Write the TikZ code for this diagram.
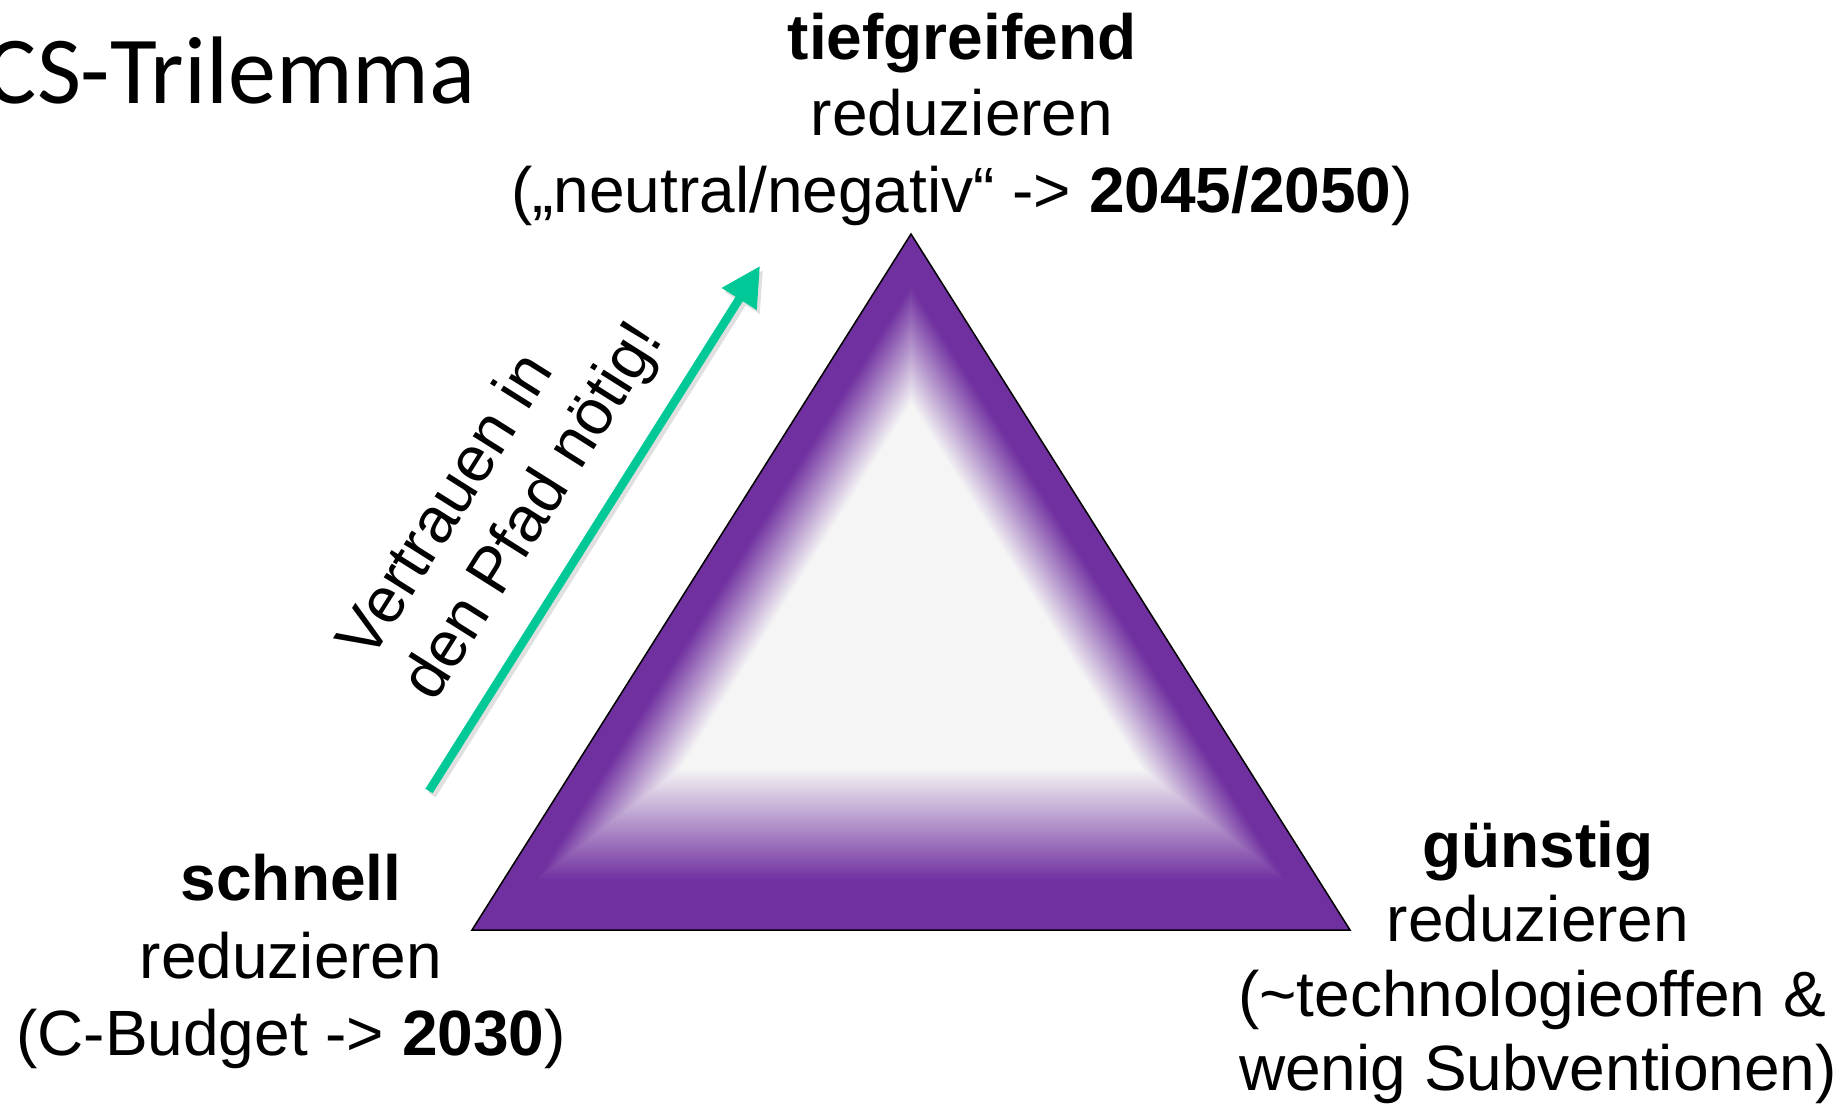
\documentclass[tikz,border=0pt]{standalone}
\usepackage{fontspec}
\setmainfont{Liberation Sans}
\newfontfamily\titlefont{Carlito}
\usetikzlibrary{arrows.meta,calc}
\definecolor{trpurple}{HTML}{7030A0}
\definecolor{trinner}{HTML}{F5F5F5}
\definecolor{arrowgreen}{HTML}{00C896}
\begin{document}
\begin{tikzpicture}[x=0.5pt,y=-0.5pt,
  lbl/.style={font=\fontsize{32}{38}\selectfont, inner sep=0pt, anchor=base},
  rlbl/.style={font=\fontsize{32}{38}\selectfont, inner sep=0pt, anchor=base west, rotate=57.77},
  titlestyle/.style={font=\titlefont\fontsize{48}{58}\selectfont, inner sep=0pt, anchor=base east},
  trustarrow/.style={arrowgreen, line width=4.25pt, -{Triangle[length=19.5pt,width=19.5pt]}},
  shadowarrow/.style={black!12, line width=4.25pt, -{Triangle[length=19.5pt,width=19.5pt]}},
  outline/.style={black, line width=0.75pt, line join=miter}]
\useasboundingbox (0,0) rectangle (1844,1108);
\fill[white] (0,0) rectangle (1844,1108);

% title
\node[titlestyle] (title) at (476,103) {CS-Trilemma};

% triangle with bevel
\coordinate (A) at (911,234);
\coordinate (B) at (472,930);
\coordinate (C) at (1350,930);
\foreach \i in {0,...,72} {
  \pgfmathsetmacro\tt{\i/72}
  \pgfmathsetmacro\ss{90*\tt}
  \pgfmathsetmacro\bb{160*\tt}
  \pgfmathsetmacro\ay{234+1.8745*\ss}
  \pgfmathsetmacro\by{930-\bb}
  \pgfmathsetmacro\hw{(\by-\ay)*0.63075}
  \pgfmathsetmacro\pc{\tt<0.3 ? 100 : max(0,100*(1-(\tt-0.3)/0.7))}
  \fill[trpurple!\pc!trinner] (911,\ay) -- (911-\hw,\by) -- (911+\hw,\by) -- cycle;
}
\draw[outline] (A) -- (B) -- (C) -- cycle;

% arrow
\coordinate (tail) at (429,791);
\coordinate (tip) at (760,266);
\coordinate (stail) at (432,795);
\coordinate (stip) at (763,270);
\draw[shadowarrow] (stail) -- (stip);
\draw[trustarrow] (tail) -- (tip);
\node[rlbl] (trust1) at (370,663) {Vertrauen in};
\node[rlbl] (trust2) at (434,704) {den Pfad nötig!};

% top label
\node[lbl] (top1) at (962,59) {\bfseries tiefgreifend};
\node[lbl] (top2) at (962,135) {reduzieren};
\node[lbl] (top3) at (962,212) {(„neutral/negativ“ -> \textbf{2045/2050})};

% bottom left label
\node[lbl] (bl1) at (291,900) {\bfseries schnell};
\node[lbl] (bl2) at (291,978) {reduzieren};
\node[lbl] (bl3) at (291,1055) {(C-Budget -> \textbf{2030})};

% bottom right label
\node[lbl] (br1) at (1538,867) {\bfseries günstig};
\node[lbl] (br2) at (1538,941) {reduzieren};
\node[lbl] (br3) at (1532,1016) {(\textasciitilde technologieoffen \&};
\node[lbl] (br4) at (1538,1090) {wenig Subventionen)};
\end{tikzpicture}
\end{document}
